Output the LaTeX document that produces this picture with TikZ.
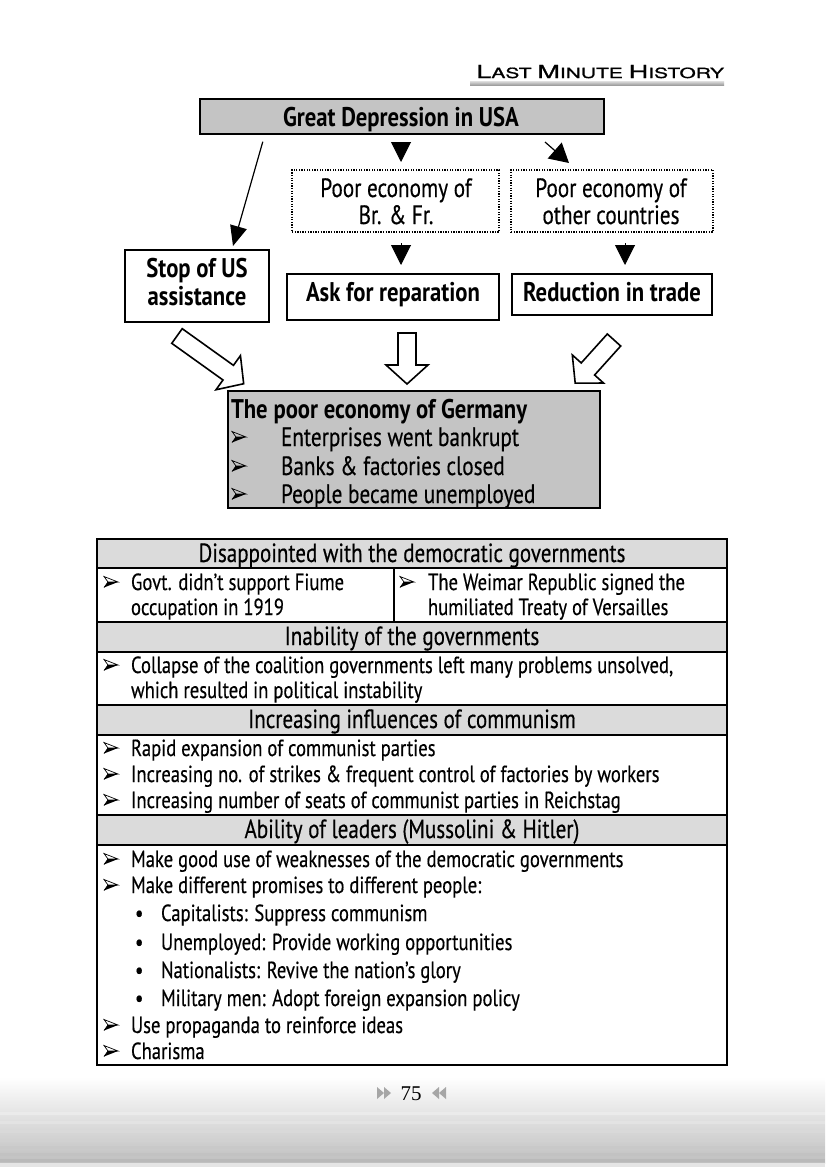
\documentclass[tikz,border=0pt]{standalone}
\usepackage{fontspec}
\setmainfont{PT Sans}[FakeStretch=0.8, UprightFeatures={FakeBold=0.4}]
\newfontfamily\bfam{PT Sans}[FakeStretch=0.84]
\newfontfamily\hdrfont{TeX Gyre Heros}[FakeStretch=1.5, FakeBold=1]
\newfontfamily\pgfont{Liberation Serif}
\usetikzlibrary{arrows.meta,calc}
\definecolor{boxgray}{gray}{0.77}
\definecolor{hdrgray}{gray}{0.86}
\newcommand{\hollowarrow}[4]{%
  \draw[harrow, shift={(#1,#2)}, rotate=#3] (0,-9) -- ({#4-19},-9) -- ({#4-19},-21) -- (#4,0) -- ({#4-19},21) -- ({#4-19},9) -- (0,9) -- cycle;}
\begin{document}
\begin{tikzpicture}[x=1pt,y=-1pt,
  every node/.style={inner sep=0pt, outer sep=0pt},
  txt/.style={font=\fontsize{23.3}{26}\selectfont, anchor=base west},
  bigtxt/.style={font=\fontsize{26.5}{27}\selectfont, anchor=base west},
  dtxt/.style={font=\fontsize{26.5}{27}\selectfont, anchor=base},
  ctxt/.style={font=\fontsize{26.3}{26}\selectfont, anchor=base},
  btxt/.style={font=\bfam\bfseries\fontsize{27}{28}\selectfont, anchor=base west},
  bctxt/.style={font=\bfam\bfseries\fontsize{27}{28}\selectfont, anchor=base},
  solidbox/.style={draw, line width=1.3pt},
  dotbox/.style={draw, line width=1.3pt, dash pattern=on 1.3pt off 1.3pt},
  tri/.style={-{Triangle[length=20pt,width=20pt]}, line width=1pt},
  thin/.style={-{Triangle[length=20pt,width=17pt]}, line width=1.2pt},
  tline/.style={line width=1.3pt},
  harrow/.style={draw, line width=1.6pt, fill=white, line join=miter},
  arrbul/.pic={
    \fill[black] (0,5.5) -- (14,0) -- (4,0) -- cycle;
    \draw[line width=0.7pt, line join=miter] (0,-5.5) -- (14,0) -- (4,0) -- cycle;
    \draw[line width=0.7pt] (4,0) -- (0,5.5);
  },
]
\useasboundingbox (0,0) rectangle (825,1167);
\fill[white] (0,0) rectangle (825,1167);
% footer gradient
\shade[top color=white, bottom color=gray!50] (0,1077) rectangle (825,1163);
\foreach \yy/\gg in {1112/16,1121/22,1130/30,1139/36,1146/42,1153/48,1159/55} {\fill[gray!\gg] (0,\yy) rectangle (825,\yy+3);}
\fill[gray!20] (0,1163) rectangle (825,1167);
% header
\node[anchor=base east, font=\hdrfont\fontsize{14}{14}\selectfont] (hdr) at (724,78) {{\fontsize{18}{18}\selectfont L}AST {\fontsize{18}{18}\selectfont M}INUTE {\fontsize{18}{18}\selectfont H}ISTORY};
\shade[top color=gray!25, bottom color=gray!75] (470,81) rectangle (724,85);
% top flow
\node[solidbox, fill=boxgray, minimum width=404pt, minimum height=35pt] (GD) at (402,116.5) {};
\node[bctxt] (GDt) at (401,126.5) {Great Depression in USA};
\node[dotbox, minimum width=207pt, minimum height=62pt] (PB) at (395.5,201) {};
\node[dtxt] (PBt1) at (396,197) {Poor economy of};
\node[dtxt] (PBt2) at (396,224) {Br. \& Fr.};
\node[dotbox, minimum width=202pt, minimum height=62pt] (PO) at (612,201) {};
\node[dtxt] (POt1) at (611,197) {Poor economy of};
\node[dtxt] (POt2) at (611,224) {other countries};
\node[solidbox, minimum width=144pt, minimum height=72pt] (US) at (197,286) {};
\node[bctxt] (USt1) at (197,277.5) {Stop of US};
\node[bctxt] (USt2) at (197,305.5) {assistance};
\node[solidbox, minimum width=212pt, minimum height=46pt] (AR) at (393,297) {};
\node[bctxt] (ARt) at (393,301.5) {Ask for reparation};
\node[solidbox, minimum width=200pt, minimum height=41pt] (RT) at (612,294.5) {};
\node[bctxt] (RTt) at (612,301.5) {Reduction in trade};
\draw[thin, shorten <=8pt] ($(GD.south west)+(65,0)$) -- ($(US.north west)+(108,-4)$);
\draw[tri, shorten <=8pt, shorten >=8pt] (GD.south -| 401,0) -- (PB.north -| 401,0);
\draw[-{Triangle[length=19pt,width=21pt]}, line width=1.2pt] ($(GD.south west)+(345,8)$) -- ($(PO.north west)+(58,-7)$);
\draw[tri, shorten <=11pt, shorten >=9pt] (PB.south -| 401,0) -- (AR.north -| 401,0);
\draw[tri, shorten <=11pt, shorten >=9pt] (PO.south -| 625,0) -- (RT.north -| 625,0);
% hollow arrows
\hollowarrow{177}{336}{-35.6}{82}
\hollowarrow{407}{333}{-90}{51}
\hollowarrow{614}{340}{-132}{58}
% Germany box
\node[draw, line width=1.3pt, fill=boxgray, minimum width=372pt, minimum height=117pt] (GE) at (414,449.5) {};
\node[btxt] (ge0) at (231,418) {The poor economy of Germany};
\foreach \yy in {437,466,494} {\pic at (232,\yy) {arrbul};}
\node[bigtxt] (ge1) at (281,446) {Enterprises went bankrupt};
\node[bigtxt] (ge2) at (281,475) {Banks \& factories closed};
\node[bigtxt] (ge3) at (281,503) {People became unemployed};
% table
\draw[tline, fill=hdrgray] (97,539) rectangle (727,568);
\draw[tline] (97,568) rectangle (727,622);
\draw[tline] (394,568) -- (394,622);
\draw[tline, fill=hdrgray] (97,622) rectangle (727,652);
\draw[tline] (97,652) rectangle (727,705);
\draw[tline, fill=hdrgray] (97,705) rectangle (727,735);
\draw[tline] (97,735) rectangle (727,815);
\draw[tline, fill=hdrgray] (97,815) rectangle (727,845);
\draw[tline] (97,845) rectangle (727,1065);
\foreach \yy in {582,665,748,774,800,859,885,1025,1051} {\pic at (104,\yy) {arrbul};}
\pic at (400,582) {arrbul};
\node[ctxt] (h1) at (412,562) {Disappointed with the democratic governments};
\node[txt] (t11) at (131,590) {Govt. didn’t support Fiume};
\node[txt] (t12) at (131,615) {occupation in 1919};
\node[txt] (t13) at (428,590) {The Weimar Republic signed the};
\node[txt] (t14) at (428,615) {humiliated Treaty of Versailles};
\node[ctxt] (h2) at (412,645) {Inability of the governments};
\node[txt] (t21) at (131,673) {Collapse of the coalition governments left many problems unsolved,};
\node[txt] (t22) at (131,698) {which resulted in political instability};
\node[ctxt] (h3) at (412,728) {Increasing influences of communism};
\node[txt] (t31) at (131,756) {Rapid expansion of communist parties};
\node[txt] (t32) at (131,782) {Increasing no. of strikes \& frequent control of factories by workers};
\node[txt] (t33) at (131,808) {Increasing number of seats of communist parties in Reichstag};
\node[ctxt] (h4) at (412,838) {Ability of leaders (Mussolini \& Hitler)};
\node[txt] (t41) at (131,867) {Make good use of weaknesses of the democratic governments};
\node[txt] (t42) at (131,893) {Make different promises to different people:};
\node[txt] (s1b) at (135,921) {•};
\node[txt] (s2b) at (135,950) {•};
\node[txt] (s3b) at (135,978) {•};
\node[txt] (s4b) at (135,1006) {•};
\node[txt] (s1) at (161,921) {Capitalists: Suppress communism};
\node[txt] (s2) at (161,950) {Unemployed: Provide working opportunities};
\node[txt] (s3) at (161,978) {Nationalists: Revive the nation’s glory};
\node[txt] (s4) at (161,1006) {Military men: Adopt foreign expansion policy};
\node[txt] (t43) at (131,1033) {Use propaganda to reinforce ideas};
\node[txt] (t44) at (131,1059) {Charisma};
% page number
\node[anchor=base, font=\pgfont\fontsize{21}{21}\selectfont] (pg) at (411,1100) {75};
\foreach \xx in {377,384} {\fill[gray!70] (\xx,1087) -- (\xx+7,1093) -- (\xx,1099) -- cycle;}
\foreach \xx in {446,439} {\fill[gray!70] (\xx,1087) -- (\xx-7,1093) -- (\xx,1099) -- cycle;}
\end{tikzpicture}
\end{document}
